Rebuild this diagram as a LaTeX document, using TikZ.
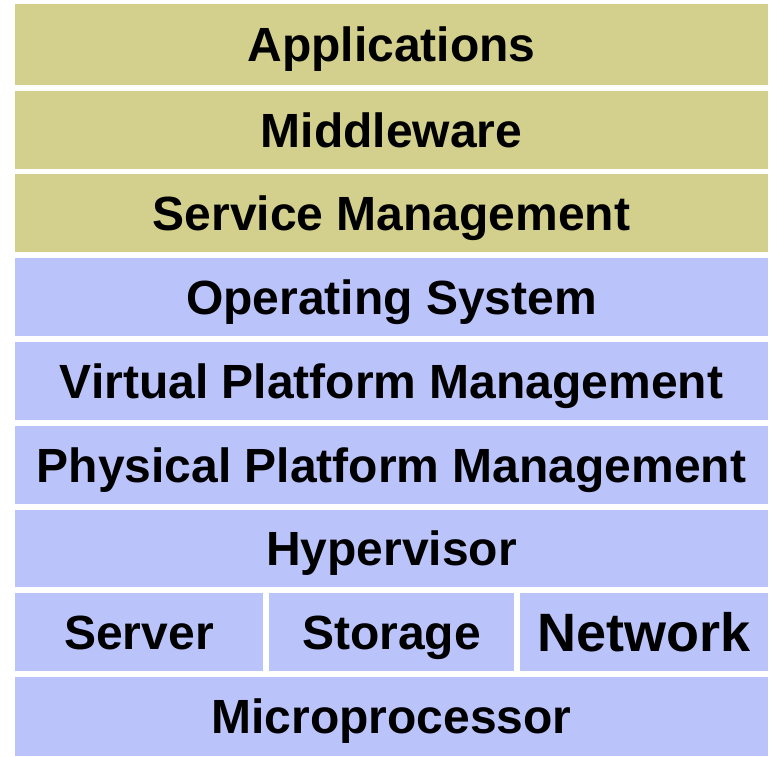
\documentclass[tikz,border=0pt]{standalone}
\usepackage{fontspec}
\setmainfont{Liberation Sans}
\definecolor{olivebox}{RGB}{211,207,140}
\definecolor{bluebox}{RGB}{187,195,251}
\begin{document}
\begin{tikzpicture}[x=1pt,y=-1pt,
  cell/.style={anchor=north west, inner sep=0pt, outer sep=0pt, draw=none,
    text height=34.4pt, text depth=0pt,
    font=\fontsize{48}{48}\selectfont\bfseries},
  layer/.style={cell, minimum width=753pt}]
\useasboundingbox (0,0) rectangle (769,756);
\node[layer, fill=olivebox, minimum height=81pt] (app) at (15,4) {Applications};
\node[layer, fill=olivebox, minimum height=78pt] (mid) at (15,91) {Middleware};
\node[layer, fill=olivebox, minimum height=78pt] (svc) at (15,174) {Service Management};
\node[layer, fill=bluebox, minimum height=78pt] (os) at (15,258) {Operating System};
\node[layer, fill=bluebox, minimum height=78pt] (vpm) at (15,342) {Virtual Platform Management};
\node[layer, fill=bluebox, minimum height=78pt] (ppm) at (15,426) {Physical Platform Management};
\node[layer, fill=bluebox, minimum height=77pt] (hyp) at (15,510) {Hypervisor};
\node[cell, fill=bluebox, minimum width=248pt, minimum height=78pt] (srv) at (15,593) {Server};
\node[cell, fill=bluebox, minimum width=245pt, minimum height=78pt] (sto) at (269,593) {Storage};
\node[cell, fill=bluebox, minimum width=248pt, minimum height=78pt, text height=38.7pt, font=\fontsize{54}{54}\selectfont\bfseries] (net) at (520,593) {Network};
\node[layer, fill=bluebox, minimum height=79pt] (mic) at (15,677) {Microprocessor};
\end{tikzpicture}
\end{document}
